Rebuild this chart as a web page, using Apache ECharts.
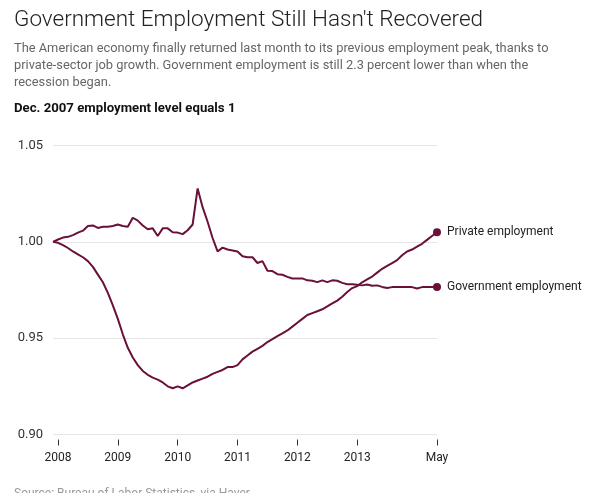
<!DOCTYPE html>
<html>
<head>
<meta charset="utf-8">
<script src="https://cdn.jsdelivr.net/npm/echarts@6/dist/echarts.min.js"></script>
<style>
  html, body { margin: 0; padding: 0; background: #fff; }
  #main { width: 599px; height: 493px; }
</style>
</head>
<body>
<div id="main"></div>
<script>
// monthly, Dec 2007 .. May 2014 (index Dec 2007 = 1)
const startYear = 2007, startMonth = 12, monthCount = 78;
const months = [];
for (let i = 0; i < monthCount; i++) {
  const m = (startMonth - 1 + i) % 12 + 1;
  const y = startYear + Math.floor((startMonth - 1 + i) / 12);
  months.push(y + '-' + (m < 10 ? '0' + m : m));
}

const privateEmp = [
  1.000, 0.9995, 0.9983, 0.9968, 0.995, 0.9935, 0.992, 0.990, 0.987, 0.983,
  0.979, 0.9735, 0.967, 0.960, 0.952, 0.945, 0.940, 0.936, 0.933, 0.931,
  0.9295, 0.9285, 0.927, 0.925, 0.924, 0.925, 0.924, 0.9255, 0.927, 0.928,
  0.929, 0.930, 0.9315, 0.9325, 0.9335, 0.935, 0.935, 0.936, 0.939, 0.941,
  0.943, 0.9445, 0.946, 0.948, 0.9495, 0.951, 0.9525, 0.954, 0.956, 0.958,
  0.960, 0.962, 0.963, 0.964, 0.965, 0.9665, 0.968, 0.9695, 0.9715, 0.974,
  0.976, 0.977, 0.979, 0.9805, 0.982, 0.984, 0.986, 0.9875, 0.989, 0.9905,
  0.993, 0.995, 0.996, 0.9975, 0.999, 1.001, 1.003, 1.005
];

const governmentEmp = [
  1.000, 1.0012, 1.0022, 1.0026, 1.0035, 1.0048, 1.0058, 1.0082, 1.0085, 1.0072,
  1.0078, 1.0078, 1.0082, 1.009, 1.0082, 1.0078, 1.0125, 1.011, 1.0085, 1.0065,
  1.007, 1.003, 1.007, 1.007, 1.005, 1.0048, 1.004, 1.006, 1.009, 1.0277,
  1.018, 1.0104, 1.002, 0.995, 0.997, 0.996, 0.9955, 0.995, 0.9925, 0.992,
  0.992, 0.989, 0.990, 0.985, 0.9848, 0.9832, 0.9829, 0.9818, 0.981, 0.981,
  0.981, 0.980, 0.9798, 0.9791, 0.980, 0.9791, 0.980, 0.9798, 0.9787, 0.978,
  0.978, 0.9777, 0.9774, 0.9779, 0.9772, 0.9774, 0.9766, 0.976, 0.9765, 0.9765,
  0.9765, 0.9765, 0.9765, 0.9758, 0.9765, 0.9765, 0.9765, 0.9766
];

const tickMonths = ['2008-01', '2009-01', '2010-01', '2011-01', '2012-01', '2013-01', '2014-05'];
const tickLabels = ['2008', '2009', '2010', '2011', '2012', '2013', 'May'];

const lineColor = '#6a1039';
const font = 'Roboto, "Liberation Sans", sans-serif';

// only the last point gets a dot
function withEndDot(arr) {
  return arr.map((v, i) => i === arr.length - 1
    ? { value: v, symbol: 'circle', symbolSize: 8 }
    : v);
}

const chart = echarts.init(document.getElementById('main'), null, { renderer: 'canvas' });

const option = {
  animation: false,
  textStyle: { fontFamily: font },
  graphic: [
    {
      type: 'text', left: 14, top: 9,
      style: { text: "Government Employment Still Hasn't Recovered", font: '300 22.5px ' + font, fill: '#222' }
    },
    {
      type: 'text', left: 14, top: 40,
      style: {
        text: 'The American economy finally returned last month to its previous employment peak, thanks to\n' +
              'private-sector job growth. Government employment is still 2.3 percent lower than when the\n' +
              'recession began.',
        font: '12.85px ' + font, fill: '#666', lineHeight: 17
      }
    },
    {
      type: 'text', left: 14, top: 102,
      style: { text: 'Dec. 2007 employment level equals 1', font: 'bold 13.2px ' + font, fill: '#111' }
    },
    {
      type: 'text', left: 14, top: 488,
      style: { text: 'Source: Bureau of Labor Statistics, via Haver', font: '12px ' + font, fill: '#999' }
    }
  ],
  grid: { left: 53, right: 162, top: 145.5, bottom: 58.5 },
  xAxis: {
    type: 'category',
    data: months,
    boundaryGap: false,
    offset: 5,
    axisLine: { show: false },
    axisTick: {
      show: true,
      length: 6,
      interval: (idx, val) => tickMonths.includes(val),
      lineStyle: { color: '#333', width: 1 }
    },
    axisLabel: {
      interval: (idx, val) => tickMonths.includes(val),
      formatter: val => tickLabels[tickMonths.indexOf(val)] || '',
      margin: 12,
      color: '#222',
      fontSize: 12,
      fontFamily: font
    },
    splitLine: { show: false }
  },
  yAxis: {
    type: 'value',
    min: 0.9,
    max: 1.05,
    interval: 0.05,
    axisLine: { show: false },
    axisTick: { show: false },
    axisLabel: {
      formatter: v => v.toFixed(2),
      margin: 10,
      color: '#333',
      fontSize: 13,
      fontFamily: font
    },
    splitLine: { lineStyle: { color: '#e6e6e6', width: 1 } }
  },
  series: [
    {
      name: 'Private employment',
      type: 'line',
      data: withEndDot(privateEmp),
      symbol: 'none',
      showSymbol: true,
      lineStyle: { color: lineColor, width: 2 },
      itemStyle: { color: lineColor },
      endLabel: { show: true, formatter: '{a}', distance: 10, color: '#222', fontSize: 12, fontFamily: font }
    },
    {
      name: 'Government employment',
      type: 'line',
      data: withEndDot(governmentEmp),
      symbol: 'none',
      showSymbol: true,
      lineStyle: { color: lineColor, width: 2 },
      itemStyle: { color: lineColor },
      endLabel: { show: true, formatter: '{a}', distance: 10, color: '#222', fontSize: 12, fontFamily: font }
    }
  ]
};

chart.setOption(option);
</script>
</body>
</html>
